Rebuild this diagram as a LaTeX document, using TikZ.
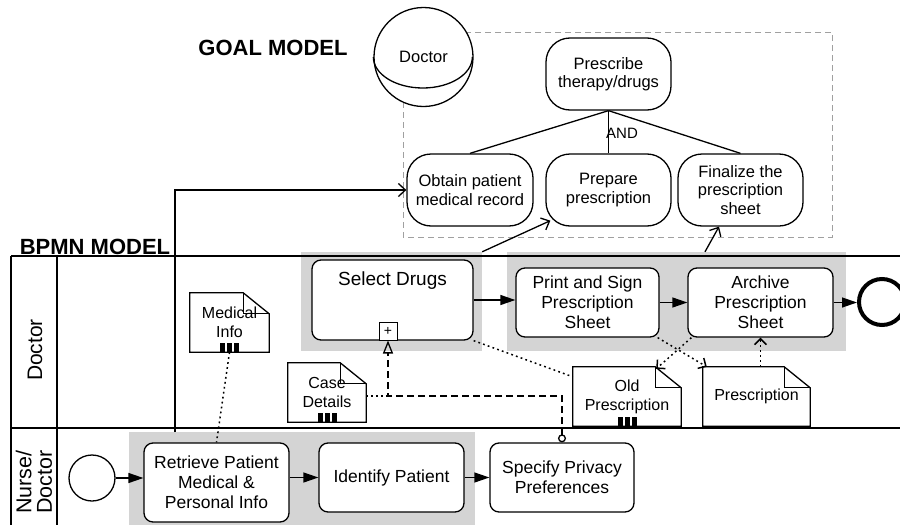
\documentclass[tikz,border=0pt]{standalone}
\usepackage{fontspec}
\setmainfont{Liberation Sans}
\usetikzlibrary{arrows.meta}
\definecolor{grp}{HTML}{D4D4D4}
\definecolor{glc}{HTML}{A0A0A0}
\tikzset{
  lw/.style={line width=1.3pt},
  goalnode/.style={draw, lw, rounded corners=24pt, align=center, fill=white,
    font=\fontsize{16.5}{18.5}\selectfont, inner sep=0pt,
    minimum width=125pt, minimum height=72pt},
  actornode/.style={circle, draw, lw, fill=white, inner sep=0pt, minimum size=99pt,
    font=\fontsize{16.5}{18.5}\selectfont},
  task/.style={draw, lw, rounded corners=9pt, align=center, fill=white,
    font=\fontsize{17.5}{20}\selectfont, inner sep=0pt},
  grpbox/.style={fill=grp, draw=none, inner sep=0pt},
  docnode/.style={align=center, inner sep=0pt, font=\fontsize{16}{19}\selectfont},
  seq/.style={lw, -{Triangle[length=15pt,width=10pt]}},
  assoc/.style={line width=1.5pt, dash pattern=on 1.8pt off 3.2pt},
  assocarr/.style={assoc, -{Straight Barb[length=6pt,width=12pt]}},
  goalarr/.style={lw, -{Straight Barb[length=7pt,width=13pt]}},
  msg/.style={lw, dash pattern=on 7pt off 4pt},
  poolline/.style={line width=1.2pt},
  title/.style={font=\bfseries\fontsize{22}{22}\selectfont, anchor=base, inner sep=0pt},
  eventnode/.style={circle, draw, inner sep=0pt, minimum size=46pt},
}
\newcommand\docoutline[1]{%
  \draw[lw] (#1.south west) -- (#1.north west) -- ([xshift=-26pt]#1.north east)
    -- ([yshift=-21pt]#1.north east) -- (#1.south east) -- cycle;
  \draw[lw] ([xshift=-26pt]#1.north east) |- ([yshift=-21pt]#1.north east);}
\newcommand\collbars[1]{%
  \fill ([xshift=-9.5pt]#1.south) rectangle ++(5pt,9pt);
  \fill ([xshift=-2.5pt]#1.south) rectangle ++(5pt,9pt);
  \fill ([xshift=4.5pt]#1.south) rectangle ++(5pt,9pt);}
\begin{document}
\begin{tikzpicture}[x=1pt,y=-1pt]
\clip (0,0) rectangle (900,525);
% ---------------- GOAL MODEL ----------------
\draw[glc, line width=1pt, dash pattern=on 6pt off 4pt] (403,32) rectangle (832,237);
\node[title] (goallbl) at (273,55) {GOAL MODEL};
\node[actornode] (actor) at (423.5,57) {Doctor};
\draw[lw] (actor.west) arc[start angle=180, end angle=360, x radius=49.5pt, y radius=31pt];
\node[goalnode] (presc) at (608.5,74) {Prescribe\\therapy/drugs};
\node[goalnode, minimum width=126pt] (obtain) at (470,190) {Obtain patient\\medical record};
\node[goalnode] (prep) at (608.5,190) {Prepare\\prescription};
\node[goalnode] (fin) at (740.5,190) {Finalize the\\prescription\\sheet};
\draw[lw] (presc.south) -- (obtain.north);
\draw[lw] (presc.south) -- (prep.north);
\draw[lw] (presc.south) -- (fin.north);
\node[font=\fontsize{15}{15}\selectfont, inner sep=0pt] (andlbl) at (622,133) {AND};
% ---------------- BPMN MODEL ----------------
\node[title] (bpmnlbl) at (95,254) {BPMN MODEL};
\node[grpbox, minimum width=181pt, minimum height=99pt] (sdgroup) at (391.5,301.5) {};
\node[grpbox, minimum width=339pt, minimum height=99pt] (psgroup) at (676.5,301.5) {};
\node[grpbox, minimum width=346pt, minimum height=95pt] (rgroup) at (302,479.5) {};
% pool and lanes
\draw[poolline] (11,256) -- (900,256);
\draw[poolline] (11,428) -- (900,428);
\draw[poolline] (11,256) -- (11,525);
\draw[poolline] (57,256) -- (57,525);
\node[rotate=90, font=\fontsize{21}{21}\selectfont, inner sep=0pt] (lanedoc) at (35,350) {Doctor};
\node[rotate=90, align=center, font=\fontsize{21.5}{20.5}\selectfont, inner sep=0pt] (lanenurse) at (34,482) {Nurse/\\Doctor};
% doctor lane tasks
\node[task, minimum width=161pt, minimum height=80pt] (seldrugs) at (392.5,300) {};
\node[font=\fontsize{19}{19}\selectfont, inner sep=0pt] (sdtext) at (392.5,281) {Select Drugs};
\node[draw, line width=1pt, fill=white, minimum size=18pt, inner sep=0pt,
      font=\fontsize{14}{14}\selectfont] (plus) at (388,331) {+};
\node[task, minimum width=143pt, minimum height=69pt] (print) at (587.5,302.5) {Print and Sign\\Prescription\\Sheet};
\node[task, minimum width=145pt, minimum height=69pt] (archive) at (760.5,302.5) {Archive\\Prescription\\Sheet};
\node[eventnode, line width=4pt] (endev) at (882,302) {};
% data objects
\node[docnode, minimum width=79pt, minimum height=59pt] (medinfo) at (229.5,322.5) {Medical\\Info};
\node[docnode, minimum width=78pt, minimum height=59pt] (casedet) at (327,392.5) {Case\\Details};
\node[docnode, minimum width=108pt, minimum height=59pt] (oldpresc) at (627,396.5) {Old\\Prescription};
\node[docnode, minimum width=107pt, minimum height=59pt] (prescdoc) at (756.5,396.5) {Prescription};
\docoutline{medinfo}\collbars{medinfo}
\docoutline{casedet}\collbars{casedet}
\docoutline{oldpresc}\collbars{oldpresc}
\docoutline{prescdoc}
% nurse lane
\node[eventnode, lw] (startev) at (92,478) {};
\node[task, minimum width=145pt, minimum height=79pt] (retrieve) at (216.5,482.5) {Retrieve Patient\\Medical \&\\Personal Info};
\node[task, minimum width=145pt, minimum height=69pt] (identify) at (391.5,477.5) {Identify Patient};
\node[task, minimum width=144pt, minimum height=69pt] (specify) at (562,477.5) {Specify Privacy\\Preferences};
% sequence flows
\draw[seq] (seldrugs.east) -- (seldrugs.east -| print.west);
\draw[seq] (print.east) -- (archive.west);
\draw[seq] (archive.east) -- (archive.east -| endev.west);
\draw[seq] (startev.east) -- (startev.east -| retrieve.west);
\draw[seq] (retrieve.east |- identify.west) -- (identify.west);
\draw[seq] (identify.east) -- (specify.west);
% associations
\draw[assoc] (medinfo.south) -- (retrieve.north);
\draw[assoc] (seldrugs.south east) -- ([yshift=-10pt]oldpresc.north west);
\draw[assocarr] ([xshift=-2pt]print.south east) -- ([xshift=4pt]prescdoc.north west);
\draw[assocarr] ([xshift=4pt]archive.south west) -- ([xshift=-25pt,yshift=-2pt]oldpresc.north east);
\draw[assocarr] (archive.south |- prescdoc.north) -- (archive.south);
% message flow
\coordinate (mf) at (388,396);
\draw[msg, {Circle[open,length=8pt,width=8pt]}-{Triangle[open,length=13pt,width=10pt]}]
  (specify.north) |- (mf) -- (plus.south);
\draw[assoc] (casedet.east |- mf) -- (mf);
% links to goal model
\coordinate (rtop) at (175,432);
\draw[goalarr] (rtop) |- (obtain.west);
\draw[goalarr] (sdgroup.north east) -- ([xshift=5pt,yshift=6pt]prep.south west);
\draw[goalarr] ([xshift=28.5pt]psgroup.north) -- ([xshift=-21.5pt]fin.south);
\end{tikzpicture}
\end{document}
